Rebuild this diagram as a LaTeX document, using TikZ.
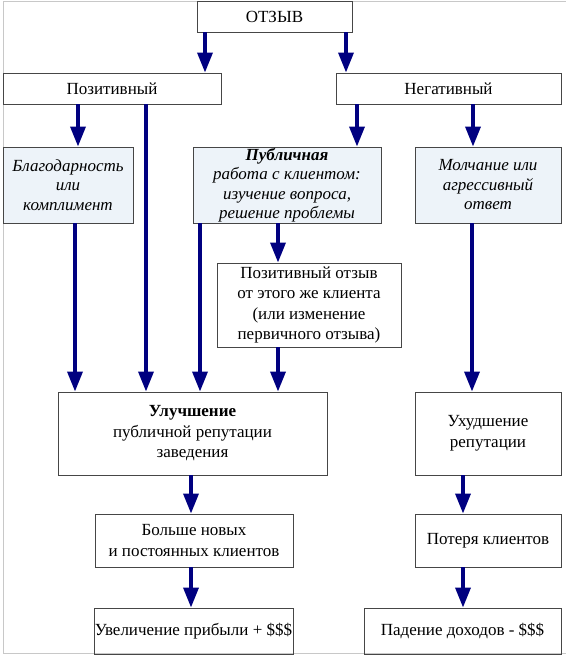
\documentclass[tikz,border=0pt]{standalone}
\usepackage{fontspec}
\setmainfont{Liberation Serif}
\usetikzlibrary{arrows.meta}
\definecolor{arrc}{RGB}{0,0,128}
\definecolor{boxfill}{RGB}{237,243,249}
\definecolor{boxline}{RGB}{70,70,70}
\definecolor{framec}{RGB}{200,200,200}
\begin{document}
\begin{tikzpicture}[x=1pt,y=-1pt,
  box/.style={draw=boxline,line width=0.9pt,inner sep=0pt,align=center,
    font=\fontsize{17}{20.5}\selectfont},
  ibox/.style={box,fill=boxfill,font=\fontsize{17}{19.5}\selectfont\itshape},
  arr/.style={draw=arrc,line width=3.5pt,-{Triangle[length=20pt,width=15pt]}}]
\useasboundingbox (0,0) rectangle (565,658);
\draw[framec,line width=0.8pt] (3,1) rectangle (567,653);
% nodes
\node[box,minimum width=155pt,minimum height=31pt] (otzyv) at (274.5,16.5) {ОТЗЫВ};
\node[box,minimum width=218pt,minimum height=31pt] (poz) at (112,88.5) {Позитивный};
\node[box,minimum width=225pt,minimum height=31pt] (neg) at (448.5,88.5) {Негативный};
\node[ibox,minimum width=130pt,minimum height=76pt] (blag) at (68,185) {Благодарность\\или\\комплимент};
\node[ibox,minimum width=188pt,minimum height=76pt] (pub) at (287,185) {\textbf{Публичная}\\работа с клиентом:\\изучение вопроса,\\решение проблемы};
\node[ibox,minimum width=146pt,minimum height=76pt] (mol) at (488,185) {Молчание или\\агрессивный\\ответ};
\node[box,minimum width=184pt,minimum height=84pt] (pozotz) at (309,305) {Позитивный отзыв\\от этого же клиента\\(или изменение\\первичного отзыва)};
\node[box,minimum width=269pt,minimum height=83pt] (ulu) at (192.5,433.5) {\textbf{Улучшение}\\публичной репутации\\заведения};
\node[box,minimum width=146pt,minimum height=83pt] (ukh) at (488,433.5) {Ухудшение\\репутации};
\node[box,minimum width=198pt,minimum height=53pt] (bol) at (194,540.5) {Больше новых\\и постоянных клиентов};
\node[box,minimum width=146pt,minimum height=53pt] (pot) at (488,540.5) {Потеря клиентов};
\node[box,minimum width=199pt,minimum height=46pt] (uvel) at (193.5,631) {Увеличение прибыли + \$\$\$};
\node[box,minimum width=197pt,minimum height=46pt] (pad) at (462.5,631) {Падение доходов - \$\$\$};
% arrows
\draw[arr] (205,0 |- otzyv.south) -- (205,0 |- poz.north);
\draw[arr] (346,0 |- otzyv.south) -- (346,0 |- neg.north);
\draw[arr] (78,0 |- poz.south) -- (78,0 |- blag.north);
\draw[arr] (146,0 |- poz.south) -- (146,0 |- ulu.north);
\draw[arr] (357,0 |- neg.south) -- (357,0 |- pub.north);
\draw[arr] (473,0 |- neg.south) -- (473,0 |- mol.north);
\draw[arr] (75,0 |- blag.south) -- (75,0 |- ulu.north);
\draw[arr] (200,0 |- pub.south) -- (200,0 |- ulu.north);
\draw[arr] (278,0 |- pub.south) -- (278,0 |- pozotz.north);
\draw[arr] (278,0 |- pozotz.south) -- (278,0 |- ulu.north);
\draw[arr] (472,0 |- mol.south) -- (472,0 |- ukh.north);
\draw[arr] (191,0 |- ulu.south) -- (191,0 |- bol.north);
\draw[arr] (191,0 |- bol.south) -- (191,0 |- uvel.north);
\draw[arr] (463,0 |- ukh.south) -- (463,0 |- pot.north);
\draw[arr] (463,0 |- pot.south) -- (463,0 |- pad.north);
\end{tikzpicture}
\end{document}
